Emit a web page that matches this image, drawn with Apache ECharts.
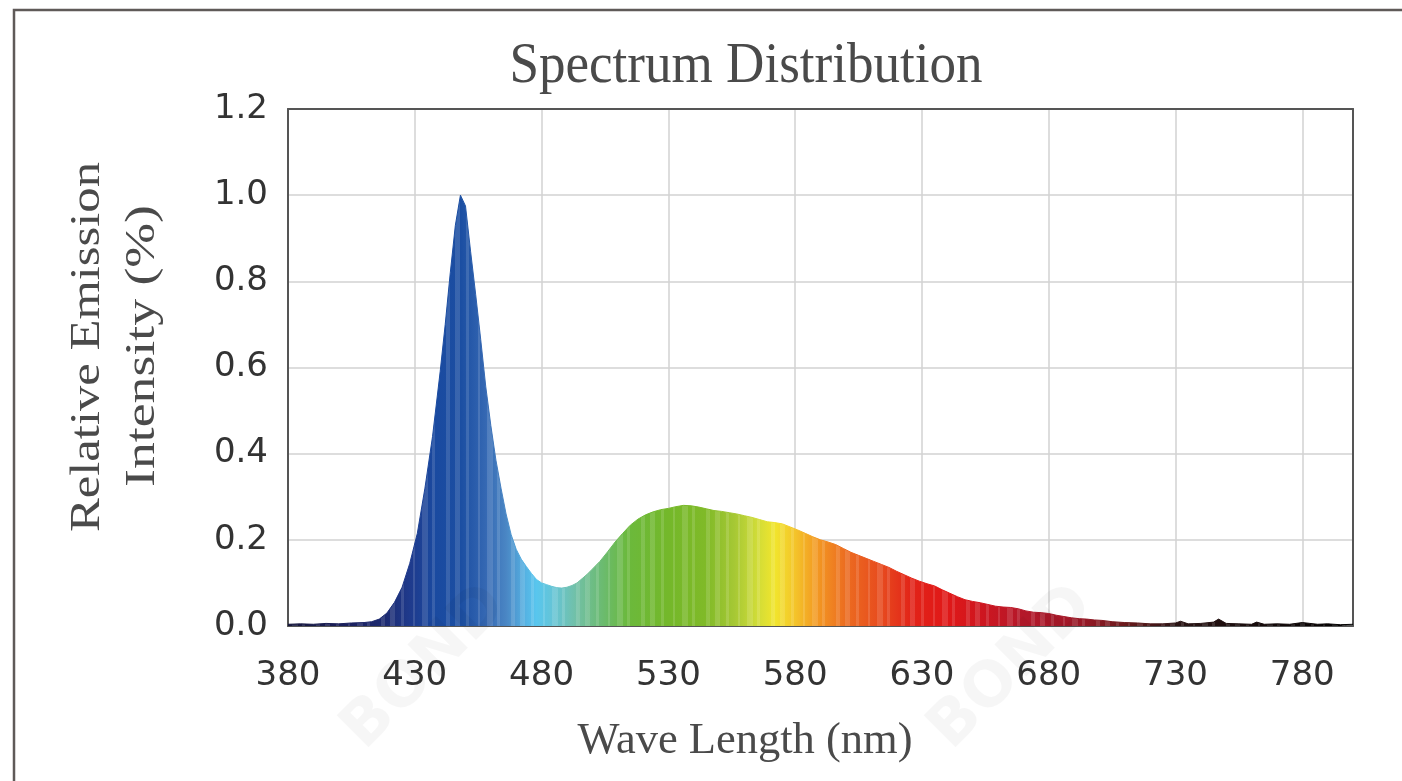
<!DOCTYPE html>
<html><head><meta charset="utf-8">
<script src="https://cdn.jsdelivr.net/npm/echarts@6/dist/echarts.min.js"></script>
<style>html,body{margin:0;padding:0;background:#fff}#c{width:1402px;height:781px}</style>
</head><body><div id="c"></div>
<script>
// ---- data ----
const wavelengths = [380,385,390,395,400,405,410,413,416,419,422,425,428,431,434,437,440,442,444,446,448,450,452,454,456,458,460,462,464,466,468,470,472,474,476,478,480,482,484,486,488,490,492,494,496,498,500,503,506,509,512,515,518,521,524,527,530,533,536,539,542,545,548,551,554,557,560,563,566,569,572,575,578,581,584,587,590,593,596,599,602,605,608,611,614,617,620,623,626,629,632,635,638,641,644,647,650,653,656,659,662,665,668,671,674,677,680,683,686,689,692,695,698,701,705,710,715,720,725,730,732,735,740,745,747,750,755,760,762,765,770,775,780,783,786,790,795,800];
const intensity = [0.004,0.005,0.004,0.006,0.005,0.007,0.008,0.010,0.016,0.030,0.055,0.090,0.145,0.215,0.320,0.440,0.590,0.700,0.820,0.930,1.000,0.975,0.870,0.770,0.665,0.555,0.465,0.385,0.320,0.260,0.212,0.178,0.155,0.138,0.122,0.108,0.100,0.096,0.092,0.089,0.088,0.090,0.094,0.100,0.110,0.120,0.132,0.150,0.172,0.195,0.215,0.234,0.248,0.258,0.265,0.270,0.273,0.277,0.280,0.279,0.276,0.272,0.268,0.266,0.263,0.260,0.256,0.252,0.247,0.242,0.240,0.237,0.230,0.223,0.215,0.207,0.200,0.195,0.189,0.180,0.171,0.164,0.157,0.150,0.143,0.136,0.127,0.119,0.111,0.104,0.098,0.093,0.084,0.076,0.068,0.061,0.057,0.054,0.050,0.046,0.044,0.043,0.040,0.035,0.032,0.031,0.029,0.025,0.022,0.019,0.017,0.016,0.014,0.013,0.010,0.008,0.007,0.005,0.005,0.007,0.011,0.005,0.006,0.009,0.016,0.006,0.005,0.004,0.009,0.004,0.005,0.004,0.008,0.006,0.004,0.005,0.003,0.004];
const xMin = 380, xMax = 800, xStep = 50;
const yMin = 0, yMax = 1.2, yStep = 0.2;
const titleText = 'Spectrum Distribution';
const xName = 'Wave Length (nm)';
const yNameLines = ['Relative Emission', 'Intensity (%)'];
const watermark = 'BOND';

// spectral colour stops (wavelength -> colour)
const spectrumStops = [
  [380,'#15163a'],[405,'#1b2160'],[418,'#1c2a70'],[428,'#1f3a8c'],[438,'#1a4aa0'],[448,'#1b4ea2'],
  [458,'#3568b3'],[466,'#4a86c4'],[474,'#55b4e4'],[478,'#58c6ee'],[486,'#68c4d0'],[494,'#72c0a4'],
  [504,'#6bbb70'],[514,'#6bb93c'],[530,'#74b82a'],[545,'#80ba28'],[556,'#a6c834'],[565,'#d0dc38'],
  [572,'#f1e52c'],[580,'#f4c42a'],[588,'#f39b22'],[600,'#ec6c20'],[614,'#e74a1e'],[626,'#e22318'],
  [640,'#e01818'],[655,'#cc1620'],[670,'#b4182a'],[690,'#a01828'],[710,'#6a1a1c'],[730,'#2a1414'],[800,'#000000']
];

const chart = echarts.init(document.getElementById('c'));
const first = wavelengths[0], last = wavelengths[wavelengths.length - 1];
const grad = () => new echarts.graphic.LinearGradient(0, 0, 1, 0,
  spectrumStops.map(s => ({offset: (s[0] - first) / (last - first), color: s[1]})));

const serif = '"Liberation Serif", "DejaVu Serif", serif';
const mctx = document.createElement('canvas').getContext('2d');
function fitScale(text, size, targetW) {
  mctx.font = size + 'px ' + serif;
  return targetW / mctx.measureText(text).width;
}
const textFill = '#4a4a4a';
const labelFont = '"DejaVu Sans", Verdana, sans-serif';
const frameColor = '#555';

chart.setOption({
  animation: false,
  backgroundColor: '#fff',
  grid: {left: 288, top: 109, right: 49, bottom: 155},
  xAxis: [{
    type: 'value', min: xMin, max: xMax, interval: xStep, position: 'bottom',
    axisLine: {show: true, onZero: false, lineStyle: {color: frameColor, width: 2}}, axisTick: {show: false},
    splitLine: {show: true, lineStyle: {color: '#d2d2d2', width: 1.5}},
    axisLabel: {showMaxLabel: false, margin: 33, fontFamily: labelFont, fontSize: 34, color: '#333'}
  }, {
    type: 'value', min: xMin, max: xMax, interval: xStep, position: 'top',
    axisLine: {show: true, onZero: false, lineStyle: {color: frameColor, width: 2}}, axisTick: {show: false},
    splitLine: {show: false}, axisLabel: {show: false}
  }],
  yAxis: [{
    type: 'value', min: yMin, max: yMax, interval: yStep, position: 'left',
    axisLine: {show: true, onZero: false, lineStyle: {color: frameColor, width: 2}}, axisTick: {show: false},
    splitLine: {show: true, lineStyle: {color: '#d2d2d2', width: 1.5}},
    axisLabel: {margin: 20, fontFamily: labelFont, fontSize: 34, color: '#333',
      formatter: v => v.toFixed(1)}
  }, {
    type: 'value', min: yMin, max: yMax, interval: yStep, position: 'right',
    axisLine: {show: true, onZero: false, lineStyle: {color: frameColor, width: 2}}, axisTick: {show: false},
    splitLine: {show: false}, axisLabel: {show: false}
  }],
  series: [{
    type: 'line', showSymbol: false, symbol: 'none',
    data: wavelengths.map((w, i) => [w, intensity[i]]),
    lineStyle: {width: 1, color: grad()},
    areaStyle: {color: grad(), opacity: 1},
    itemStyle: {decal: {symbol: 'rect', symbolSize: 1, color: 'rgba(255,255,255,0.13)',
      dashArrayX: [[5, 6, 3, 9, 2, 7, 6, 4, 3, 11, 4, 5]], dashArrayY: [20, 0], rotation: 0}},
    z: 2
  }],
  graphic: [
    {type: 'polyline', shape: {points: [[14, 781], [14, 10], [1402, 10]]}, style: {stroke: '#5f5a58', lineWidth: 2.5, fill: null}, z: 10},
    {type: 'text', x: 746, y: 67, scaleX: fitScale(titleText, 56, 473), style: {text: titleText, font: '56px ' + serif, fill: textFill, align: 'center', verticalAlign: 'middle'}, z: 10},
    {type: 'text', x: 745, y: 741, scaleX: fitScale(xName, 45, 335), style: {text: xName, font: '45px ' + serif, fill: textFill, align: 'center', verticalAlign: 'middle'}, z: 10},
    {type: 'text', x: 88, y: 347, rotation: Math.PI / 2, scaleX: fitScale(yNameLines[0], 42, 370), style: {text: yNameLines[0], font: '42px ' + serif, fill: textFill, align: 'center', verticalAlign: 'middle'}, z: 10},
    {type: 'text', x: 143, y: 346, rotation: Math.PI / 2, scaleX: fitScale(yNameLines[1], 42, 282), style: {text: yNameLines[1], font: '42px ' + serif, fill: textFill, align: 'center', verticalAlign: 'middle'}, z: 10},
    {type: 'text', x: 425, y: 668, rotation: Math.PI / 4, style: {text: watermark, font: 'bold 62px "DejaVu Sans", sans-serif', fill: 'rgba(0,0,0,0.035)', align: 'center', verticalAlign: 'middle'}, z: 20},
    {type: 'text', x: 1012, y: 668, rotation: Math.PI / 4, style: {text: watermark, font: 'bold 62px "DejaVu Sans", sans-serif', fill: 'rgba(0,0,0,0.035)', align: 'center', verticalAlign: 'middle'}, z: 20}
  ]
});
</script></body></html>
